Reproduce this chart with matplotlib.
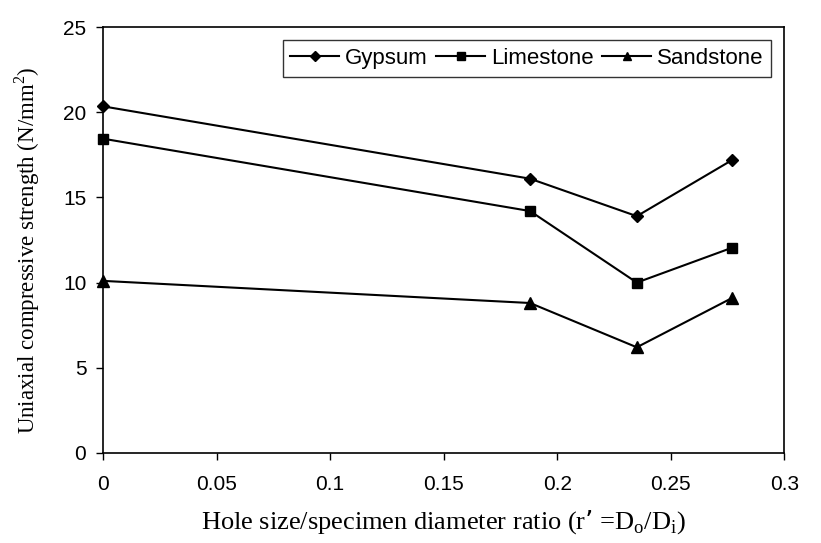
import matplotlib.pyplot as plt

# Data
ratio = [0, 0.188, 0.235, 0.277]
gypsum = [20.35, 16.1, 13.9, 17.2]
limestone = [18.45, 14.2, 10.0, 12.05]
sandstone = [10.1, 8.8, 6.2, 9.1]

x_ticks = [0, 0.05, 0.1, 0.15, 0.2, 0.25, 0.3]
x_tick_labels = ["0", "0.05", "0.1", "0.15", "0.2", "0.25", "0.3"]
y_ticks = [0, 5, 10, 15, 20, 25]

fig = plt.figure(figsize=(8.21, 5.43), dpi=100)
ax = fig.add_axes([0.1255, 0.166, 0.83, 0.784])

# Series
ax.plot(ratio, gypsum, color="black", lw=1.5, marker="D", ms=6.5, label="Gypsum", clip_on=False)
ax.plot(ratio, limestone, color="black", lw=1.5, marker="s", ms=7, label="Limestone", clip_on=False)
ax.plot(ratio, sandstone, color="black", lw=1.5, marker="^", ms=8, label="Sandstone", clip_on=False)

ax.set_xlim(0, 0.3)
ax.set_ylim(0, 25)
ax.set_xticks(x_ticks)
ax.set_xticklabels(x_tick_labels)
ax.set_yticks(y_ticks)
ax.tick_params(direction="out", length=5, width=1, labelsize=15, pad=7)
ax.tick_params(axis="x", pad=11)
for lbl in ax.get_xticklabels() + ax.get_yticklabels():
    lbl.set_family("Liberation Sans")
for s in ax.spines.values():
    s.set_linewidth(1.2)

ax.set_xlabel("Hole size/specimen diameter ratio (r\u2019 =D$_\\mathregular{o}$/D$_\\mathregular{i}$)",
              family="Liberation Serif", fontsize=19, labelpad=10)
ax.set_ylabel("Uniaxial compressive strength (N/mm$^\\mathregular{2}$)",
              family="Liberation Serif", fontsize=16.5)
ax.yaxis.set_label_coords(-0.09, 0.475)

leg = ax.legend(loc="upper right", ncol=3, frameon=True, fancybox=False,
                prop={"family": "Liberation Sans", "size": 16},
                handlelength=2.2, handletextpad=0.25, columnspacing=0.4,
                markerscale=0.8, borderaxespad=0.6, borderpad=0.35)
leg.get_frame().set_edgecolor("black")
leg.get_frame().set_linewidth(1.0)

plt.savefig("out.png", dpi=100)
